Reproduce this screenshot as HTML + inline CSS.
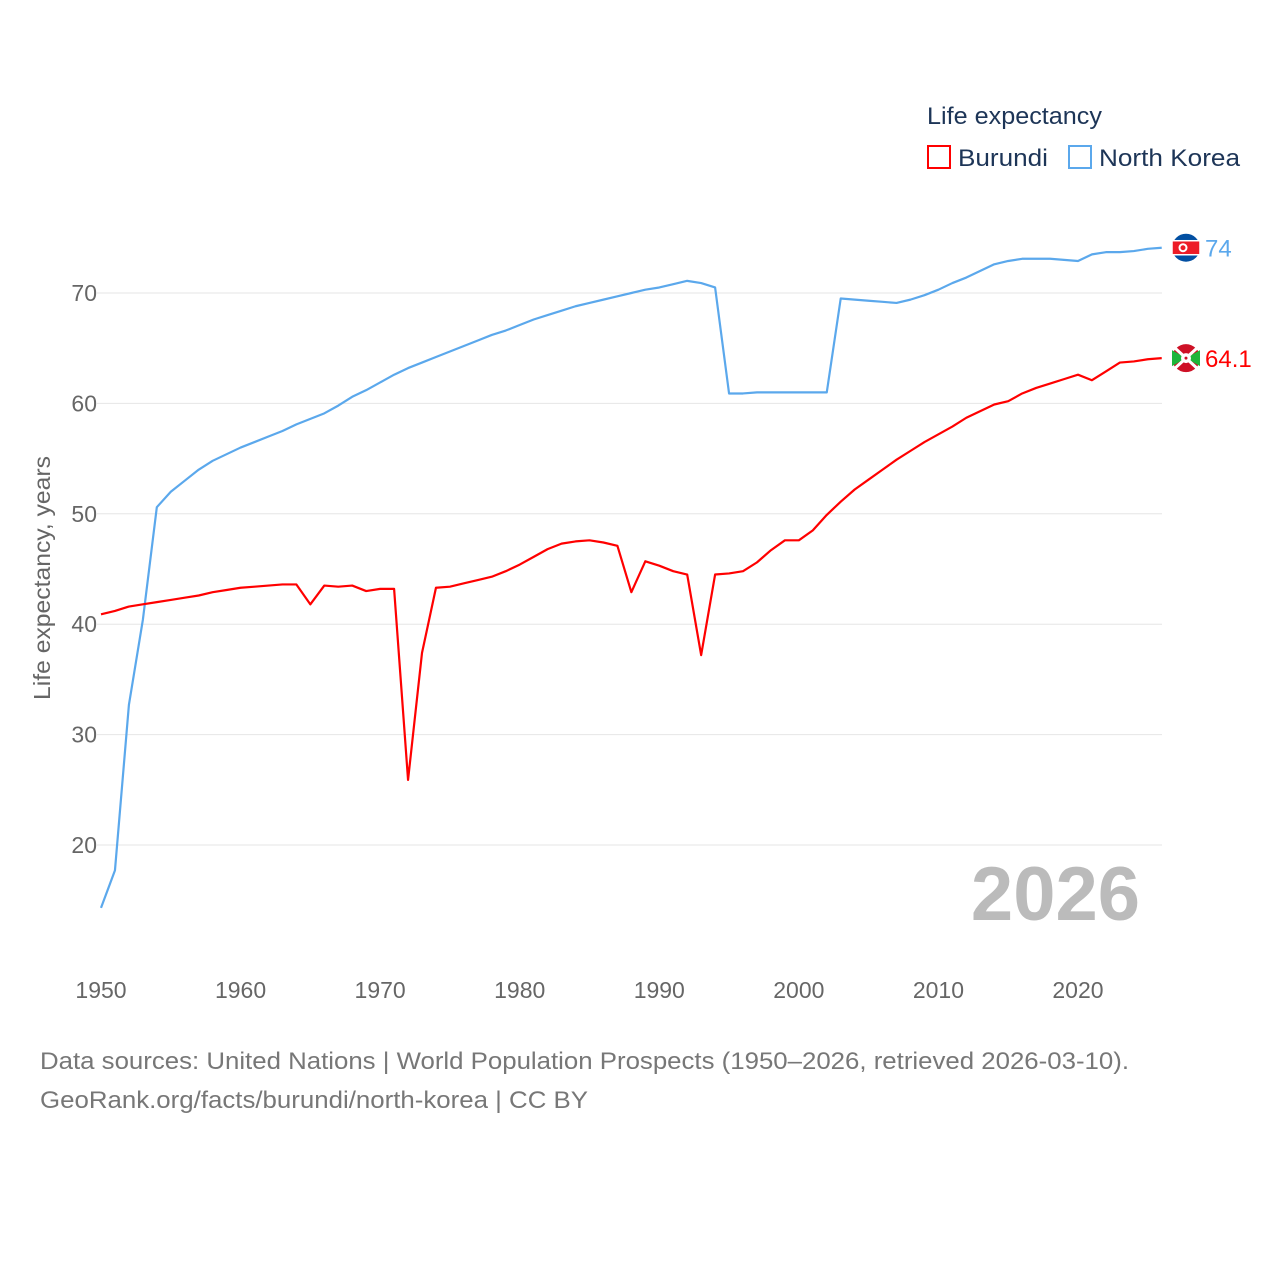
<!DOCTYPE html>
<html><head><meta charset="utf-8"><style>
body{margin:0;background:#fff;}
svg{display:block;font-family:"Liberation Sans",sans-serif;}
</style></head><body>
<svg id="chart" width="1280" height="1280">
<g id="grid"></g>
<g id="yticks"></g>
<g id="xticks"></g>
<text x="50" y="578" transform="rotate(-90 50 578)" text-anchor="middle" font-size="23" fill="#666" textLength="244" lengthAdjust="spacingAndGlyphs">Life expectancy, years</text>
<text x="1140" y="920" text-anchor="end" font-size="76" font-weight="bold" fill="#bbb">2026</text>
<g id="series"></g>
<g>
<text x="927" y="124" font-size="24" fill="#1d3557" textLength="175" lengthAdjust="spacingAndGlyphs">Life expectancy</text>
<g><rect x="928" y="146" width="22" height="22" fill="none" stroke="#f00" stroke-width="2"/><text x="958" y="166" font-size="24" fill="#1d3557" textLength="90" lengthAdjust="spacingAndGlyphs">Burundi</text></g>
<g><rect x="1069" y="146" width="22" height="22" fill="none" stroke="#5ba8ec" stroke-width="2"/><text x="1099" y="166" font-size="24" fill="#1d3557" textLength="141" lengthAdjust="spacingAndGlyphs">North Korea</text></g>
</g>
<g>
<text x="40" y="1069" font-size="24" fill="#777" textLength="1089" lengthAdjust="spacingAndGlyphs">Data sources: United Nations | World Population Prospects (1950–2026, retrieved 2026-03-10).</text>
<text x="40" y="1108" font-size="24" fill="#777" textLength="548" lengthAdjust="spacingAndGlyphs">GeoRank.org/facts/burundi/north-korea | CC BY</text>
</g>
</svg>
<script>
const years=[];for(let y=1950;y<=2026;y++)years.push(y);
const northKorea=[14.3,17.7,32.7,40.4,50.6,52.0,53.0,54.0,54.8,55.4,56.0,56.5,57.0,57.5,58.1,58.6,59.1,59.8,60.6,61.2,61.9,62.6,63.2,63.7,64.2,64.7,65.2,65.7,66.2,66.6,67.1,67.6,68.0,68.4,68.8,69.1,69.4,69.7,70.0,70.3,70.5,70.8,71.1,70.9,70.5,60.9,60.9,61.0,61.0,61.0,61.0,61.0,61.0,69.5,69.4,69.3,69.2,69.1,69.4,69.8,70.3,70.9,71.4,72.0,72.6,72.9,73.1,73.1,73.1,73.0,72.9,73.5,73.7,73.7,73.8,74.0,74.1];
const burundi=[40.9,41.2,41.6,41.8,42.0,42.2,42.4,42.6,42.9,43.1,43.3,43.4,43.5,43.6,43.6,41.8,43.5,43.4,43.5,43.0,43.2,43.2,25.9,37.4,43.3,43.4,43.7,44.0,44.3,44.8,45.4,46.1,46.8,47.3,47.5,47.6,47.4,47.1,42.9,45.7,45.3,44.8,44.5,37.2,44.5,44.6,44.8,45.6,46.7,47.6,47.6,48.5,49.9,51.1,52.2,53.1,54.0,54.9,55.7,56.5,57.2,57.9,58.7,59.3,59.9,60.2,60.9,61.4,61.8,62.2,62.6,62.1,62.9,63.7,63.8,64.0,64.1];
const yTicks=[20,30,40,50,60,70];
const xTicks=[1950,1960,1970,1980,1990,2000,2010,2020];
const ns="http://www.w3.org/2000/svg";
const X=y=>101+(y-1950)*13.957;
const Y=v=>293+(70-v)*11.04;
function mk(tag,attrs,parent){const e=document.createElementNS(ns,tag);for(const k in attrs)e.setAttribute(k,attrs[k]);parent.appendChild(e);return e;}
const grid=document.getElementById('grid'),yt=document.getElementById('yticks'),xt=document.getElementById('xticks'),ser=document.getElementById('series');
yTicks.forEach(v=>{
 const l=mk('line',{x1:97,x2:1162,y1:Y(v),y2:Y(v),stroke:'#e6e6e6','stroke-width':1},grid);
 
 
 const t=mk('text',{x:97,y:Y(v)+8,'text-anchor':'end','font-size':23,fill:'#666'},yt);t.textContent=v;
 
 
});
xTicks.forEach(v=>{
 const t=mk('text',{x:X(v),y:998,'text-anchor':'middle','font-size':23,fill:'#666'},xt);t.textContent=v;
 
 
});
function line(vals,color,name){
 const p=mk('polyline',{points:vals.map((v,i)=>X(years[i])+','+Y(v)).join(' '),fill:'none',stroke:color,'stroke-width':2.2,'stroke-linejoin':'round'},ser);
 
 
}
line(northKorea,'#5ba8ec','north-korea-line');
line(burundi,'#f00','burundi-line');
function endLabel(vals,color,name,label,flag){
 const v=vals[vals.length-1],cx=1186,cy=Y(v);
 const g=mk('g',{},ser);
 
 
 mk('circle',{cx:cx,cy:cy,r:15,fill:'#fff'},g);
 if(flag==='kp'){
  mk('circle',{cx:cx,cy:cy,r:14,fill:'#024fa2'},g);
  mk('rect',{x:cx-14,y:cy-7,width:28,height:14,fill:'#ed1c27',stroke:'#fff','stroke-width':1.5},g);
  mk('circle',{cx:cx-3,cy:cy,r:4.5,fill:'#fff'},g);
  mk('circle',{cx:cx-3,cy:cy,r:2.5,fill:'#ed1c27'},g);
 } else {
  mk('circle',{cx:cx,cy:cy,r:14,fill:'#ce1126'},g);
  mk('path',{d:`M${cx-14} ${cy-8}L${cx} ${cy}L${cx-14} ${cy+8}Z M${cx+14} ${cy-8}L${cx} ${cy}L${cx+14} ${cy+8}Z`,fill:'#1eb53a'},g);
  mk('path',{d:`M${cx-12} ${cy-11}L${cx+12} ${cy+11}M${cx+12} ${cy-11}L${cx-12} ${cy+11}`,stroke:'#fff','stroke-width':3},g);
  mk('circle',{cx:cx,cy:cy,r:5,fill:'#fff'},g);
  mk('circle',{cx:cx,cy:cy,r:1.5,fill:'#ce1126'},g);
 }
 const t=mk('text',{x:1205,y:cy+9,'font-size':24,fill:color},g);t.textContent=label;
}
endLabel(northKorea,'#5ba8ec','north-korea-end-label','74','kp');
endLabel(burundi,'#f00','burundi-end-label','64.1','bi');
</script>
</body></html>
